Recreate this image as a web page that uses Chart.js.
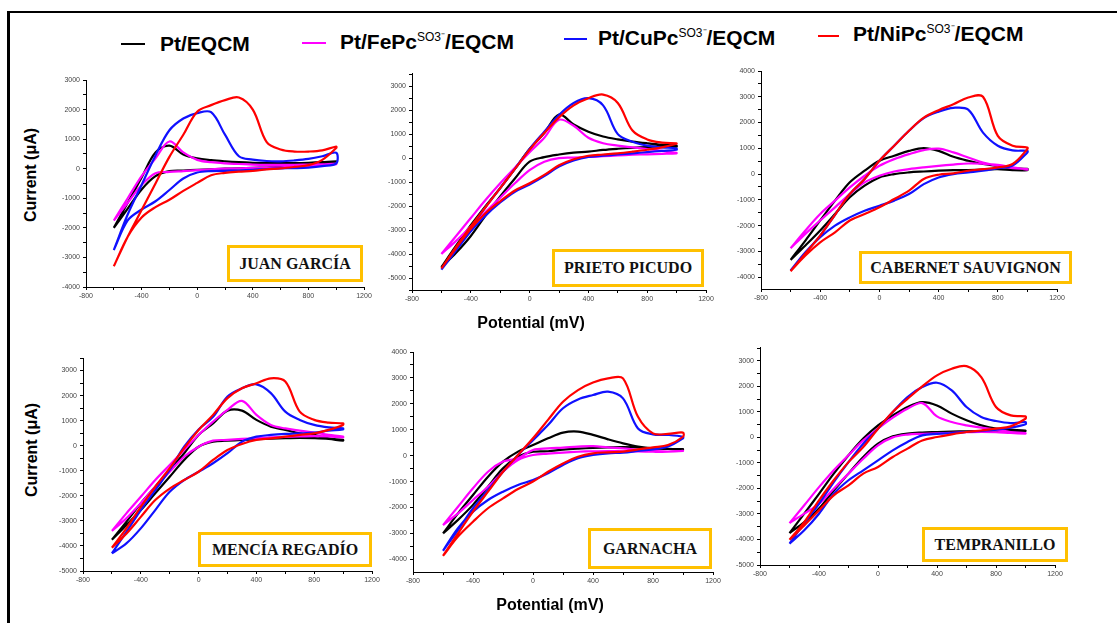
<!DOCTYPE html>
<html>
<head>
<meta charset="utf-8">
<script src="https://cdn.jsdelivr.net/npm/chart.js@4.4.0/dist/chart.umd.min.js"></script>
<style>
  html, body { margin: 0; padding: 0; background: #fff; }
  body { width: 1117px; height: 623px; position: relative; overflow: hidden; font-family: "Liberation Sans", Arial, sans-serif; }
  #frame { position: absolute; left: 7px; top: 11px; width: 1120px; height: 620px; border-left: 3px solid #000; border-top: 2px solid #000; }
  canvas { position: absolute; }
  .leg { position: absolute; font-weight: bold; font-size: 21px; color: #000; white-space: nowrap; line-height: 1; transform: translateY(-50%); }
  .leg sup { font-size: 12px; font-weight: normal; vertical-align: 8px; line-height: 0; }
  .swatch { position: absolute; height: 2px; }
  .tag { position: absolute; box-sizing: border-box; border: 3px solid #ffc000; background: #fff;
         display: flex; align-items: center; justify-content: center;
         font-family: "Liberation Serif", serif; font-weight: bold; font-size: 16px; color: #111; white-space: nowrap; }
  .title { position: absolute; font-weight: bold; font-size: 16px; color: #000; white-space: nowrap; transform: translate(-50%, -50%); }
  .title.v { transform: translate(-50%, -50%) rotate(-90deg); }
</style>
</head>
<body>
<div id="frame"></div>

<div class="swatch" style="left:121px;top:43px;width:24px;background:#000"></div>
<div class="leg" style="left:160px;top:43px">Pt/EQCM</div>
<div class="swatch" style="left:302px;top:42px;width:24px;background:#ff00ff"></div>
<div class="leg" style="left:340px;top:41px">Pt/FePc<sup>SO3⁻</sup>/EQCM</div>
<div class="swatch" style="left:564px;top:38px;width:23px;background:#1010ff"></div>
<div class="leg" style="left:598px;top:37px">Pt/CuPc<sup>SO3⁻</sup>/EQCM</div>
<div class="swatch" style="left:818px;top:35px;width:21px;background:#ff0000"></div>
<div class="leg" style="left:853px;top:33px">Pt/NiPc<sup>SO3⁻</sup>/EQCM</div>

<canvas id="jg"></canvas>
<canvas id="pp"></canvas>
<canvas id="cs"></canvas>
<canvas id="mr"></canvas>
<canvas id="ga"></canvas>
<canvas id="te"></canvas>

<div class="tag" style="left:227px;top:245px;width:136px;height:37px">JUAN GARCÍA</div>
<div class="tag" style="left:552px;top:249px;width:152px;height:38px">PRIETO PICUDO</div>
<div class="tag" style="left:859px;top:251px;width:213px;height:33px">CABERNET SAUVIGNON</div>
<div class="tag" style="left:198px;top:532px;width:174px;height:35px">MENCÍA REGADÍO</div>
<div class="tag" style="left:588px;top:528px;width:124px;height:41px">GARNACHA</div>
<div class="tag" style="left:922px;top:527px;width:146px;height:35px">TEMPRANILLO</div>

<div class="title v" style="left:31px;top:175px">Current (μA)</div>
<div class="title v" style="left:32px;top:450px">Current (μA)</div>
<div class="title" style="left:531px;top:323px">Potential (mV)</div>
<div class="title" style="left:550px;top:605px">Potential (mV)</div>

<script>
// potencial común (mV), barrido de -600 a 1000
const potential = [-600, -500, -400, -300, -200, -100, 0, 100, 200, 300, 400, 500, 600, 700, 800, 900, 1000];
const xTickLabels = [-800, -400, 0, 400, 800, 1200];
const yTickLabels = [-5000, -4000, -3000, -2000, -1000, 0, 1000, 2000, 3000, 4000];

// corriente (µA): rama anódica (Up) y catódica (Down), en el orden de potential

// JUAN GARCÍA
const jgEqcmUp   = [-2000, -1150, -300, 550, 780, 480, 350, 290, 250, 220, 200, 190, 190, 190, 200, 220, 250];
const jgEqcmDown = [-2000, -1350, -700, -250, -80, -60, -40, -20, 0, 10, 30, 40, 60, 80, 100, 150, 220];
const jgFeUp     = [-1750, -1000, -250, 350, 920, 550, 300, 220, 180, 160, 140, 130, 130, 130, 140, 150, 170];
const jgFeDown   = [-1750, -1150, -550, -150, -110, -80, -50, -20, 0, 10, 30, 40, 50, 60, 80, 110, 150];
const jgCuUp     = [-2750, -1550, -550, 450, 1300, 1700, 1880, 1910, 1150, 420, 310, 260, 250, 280, 330, 420, 540];
const jgCuDown   = [-2750, -1750, -1380, -1100, -720, -330, -130, -80, -70, -60, -40, -10, 10, 20, 40, 90, 180];
const jgNiUp     = [-3300, -2300, -1400, -500, 400, 1150, 1930, 2150, 2320, 2410, 2000, 900, 650, 580, 580, 620, 750];
const jgNiDown   = [-3300, -2300, -1650, -1300, -1050, -750, -480, -220, -140, -100, -70, -20, 10, 60, 120, 300, 700];

// PRIETO PICUDO
const ppEqcmUp   = [-4550, -3650, -2800, -2000, -1250, -450, 380, 1050, 1820, 1400, 1100, 900, 780, 690, 620, 560, 520];
const ppEqcmDown = [-4550, -3950, -3250, -2400, -1600, -850, -150, 40, 150, 230, 270, 340, 390, 430, 460, 500, 480];
const ppFeUp     = [-4000, -3250, -2500, -1750, -1050, -400, 250, 850, 1600, 1350, 850, 620, 520, 450, 380, 300, 220];
const ppFeDown   = [-4000, -3450, -2850, -2250, -1650, -1050, -500, -150, 0, 20, 50, 80, 110, 140, 160, 180, 200];
const ppCuUp     = [-4650, -3750, -2900, -2050, -1250, -450, 380, 1100, 1800, 2300, 2500, 2200, 1000, 680, 520, 450, 400];
const ppCuDown   = [-4650, -3850, -3050, -2400, -1850, -1400, -1100, -750, -350, -100, 50, 100, 150, 200, 250, 300, 350];
const ppNiUp     = [-4600, -3700, -2850, -2050, -1250, -450, 350, 1050, 1700, 2200, 2500, 2650, 2300, 1150, 780, 650, 620];
const ppNiDown   = [-4600, -3750, -2950, -2300, -1800, -1350, -1050, -700, -300, -50, 100, 150, 200, 270, 350, 450, 600];

// CABERNET SAUVIGNON
const csEqcmUp   = [-3330, -2580, -1800, -1030, -320, 130, 515, 710, 900, 1010, 900, 670, 515, 390, 320, 230, 200];
const csEqcmDown = [-3330, -2770, -2190, -1550, -900, -450, -130, 0, 65, 100, 130, 150, 155, 170, 190, 150, 150];
const csFeUp     = [-2880, -2190, -1550, -1030, -515, -65, 320, 580, 775, 930, 985, 840, 645, 450, 320, 230, 190];
const csFeDown   = [-2880, -2320, -1800, -1290, -775, -320, -65, 100, 190, 260, 320, 370, 410, 400, 360, 260, 170];
const csCuUp     = [-3740, -3050, -2390, -1580, -775, -190, 515, 1100, 1680, 2170, 2420, 2570, 2500, 1610, 1100, 920, 900];
const csCuDown   = [-3740, -3030, -2450, -2000, -1680, -1420, -1230, -1030, -775, -390, -130, 0, 65, 130, 230, 330, 840];
const csNiUp     = [-3770, -3080, -2390, -1580, -775, -190, 515, 1100, 1680, 2190, 2480, 2710, 2970, 3000, 1480, 1100, 1030];
const csNiDown   = [-3770, -3160, -2650, -2260, -1800, -1550, -1290, -970, -645, -190, -25, 25, 130, 190, 260, 390, 970];

// MENCÍA REGADÍO
const mrEqcmUp   = [-3750, -3040, -2300, -1640, -970, -300, 430, 890, 1400, 1400, 1030, 760, 630, 490, 430, 290, 230];
const mrEqcmDown = [-3750, -3170, -2570, -1900, -1240, -570, -40, 160, 200, 230, 260, 280, 300, 310, 300, 270, 200];
const mrFeUp     = [-3400, -2700, -2040, -1370, -770, -170, 430, 960, 1430, 1790, 1230, 830, 690, 600, 520, 430, 360];
const mrFeDown   = [-3400, -2900, -2300, -1640, -1040, -440, -40, 200, 230, 270, 300, 330, 350, 370, 380, 370, 330];
const mrCuUp     = [-4300, -3440, -2570, -1770, -970, -40, 650, 1150, 1960, 2290, 2450, 2100, 1360, 1030, 830, 730, 690];
const mrCuDown   = [-4300, -3900, -3300, -2570, -1840, -1370, -1040, -700, -300, 160, 360, 430, 470, 490, 520, 600, 650];
const mrNiUp     = [-4070, -3300, -2440, -1640, -900, -100, 630, 1230, 1900, 2290, 2490, 2690, 2560, 1360, 1030, 920, 890];
const mrNiDown   = [-4070, -3510, -2840, -2170, -1710, -1370, -1040, -570, -170, 70, 230, 290, 360, 430, 490, 630, 830];

// GARNACHA
const gaEqcmUp   = [-3000, -2230, -1520, -810, -230, 155, 410, 670, 890, 930, 800, 630, 475, 350, 280, 260, 250];
const gaEqcmDown = [-3000, -2480, -1900, -1200, -490, -40, 150, 170, 230, 270, 300, 320, 330, 320, 290, 260, 240];
const gaFeUp     = [-2680, -1970, -1260, -620, -230, -100, 220, 280, 310, 350, 370, 320, 280, 220, 180, 155, 190];
const gaFeDown   = [-2680, -2230, -1710, -1200, -620, -170, 25, 80, 120, 150, 170, 180, 170, 160, 150, 150, 180];
const gaCuUp     = [-3670, -2870, -2030, -1320, -620, 25, 600, 1180, 1830, 2170, 2340, 2470, 2210, 1050, 820, 800, 730];
const gaCuDown   = [-3670, -2800, -2160, -1710, -1390, -1130, -940, -680, -360, -100, 25, 90, 115, 180, 245, 350, 670];
const gaNiUp     = [-3870, -3000, -2160, -1390, -620, 25, 670, 1380, 2080, 2530, 2820, 2980, 2980, 1500, 860, 840, 890];
const gaNiDown   = [-3870, -3125, -2550, -2030, -1650, -1290, -1000, -620, -300, -40, 90, 130, 155, 245, 320, 410, 730];

// TEMPRANILLO
const teEqcmUp   = [-3750, -2990, -2210, -1420, -700, -50, 470, 860, 1190, 1380, 1250, 930, 670, 470, 340, 300, 270];
const teEqcmDown = [-3750, -3320, -2790, -2080, -1420, -770, -250, 40, 150, 190, 210, 230, 240, 250, 260, 260, 250];
const teFeUp     = [-3360, -2660, -1950, -1290, -700, -120, 340, 770, 1120, 1340, 820, 600, 470, 380, 300, 210, 170];
const teFeDown   = [-3360, -2990, -2600, -2010, -1420, -840, -310, 0, 110, 140, 160, 180, 200, 210, 200, 170, 150];
const teCuUp     = [-4160, -3360, -2600, -1750, -970, -250, 340, 990, 1580, 1970, 2140, 1840, 1190, 800, 640, 560, 600];
const teCuDown   = [-4160, -3640, -2990, -2210, -1680, -1290, -900, -510, -180, 80, 140, 170, 210, 250, 300, 380, 510];
const teNiUp     = [-4010, -3320, -2470, -1680, -970, -380, 340, 990, 1510, 2000, 2430, 2690, 2790, 2360, 1190, 860, 820];
const teNiDown   = [-4010, -3450, -2860, -2270, -1880, -1420, -1160, -770, -440, -120, 13, 120, 210, 270, 340, 430, 730];

// colores de cada electrodo
const colors = { ni: '#ff0000', cu: '#1010ff', fe: '#ff00ff', eqcm: '#000000' };

// une las dos ramas en un ciclo cerrado
function loop(up, down) {
    const pts = potential.map((e, i) => ({ x: e, y: up[i] }));
    for (let i = potential.length - 1; i >= 0; i--) {
        pts.push({ x: potential[i], y: down[i] });
    }
    return pts;
}

function line(up, down, color) {
    return {
        data: loop(up, down),
        showLine: true,
        borderColor: color,
        backgroundColor: color,
        borderWidth: 2.2,
        pointRadius: 0,
        tension: 0.35,
        fill: false
    };
}

// marcas: cada etiqueta y una marca menor a mitad de camino
function withMinor(labels) {
    const out = [];
    labels.forEach((v, i) => {
        if (i > 0) out.push((labels[i - 1] + v) / 2);
        out.push(v);
    });
    out.unshift(labels[0] - (labels[1] - labels[0]) / 2);
    out.push(labels[labels.length - 1] + (labels[1] - labels[0]) / 2);
    return out;
}
const xTicks = withMinor(xTickLabels);
const yTicks = withMinor(yTickLabels);

const tickFont = { size: 7, family: 'Liberation Sans' };

// plotLeft/plotTop = esquina del área de trazado en la página
function drawPanel(id, plotLeft, plotTop, plotW, plotH, yMin, yMax, series) {
    const yAxisW = 40, xAxisH = 18, padTop = 8, padRight = 14;
    const canvas = document.getElementById(id);
    canvas.width = yAxisW + plotW + padRight;
    canvas.height = padTop + plotH + xAxisH;
    canvas.style.left = (plotLeft - yAxisW) + 'px';
    canvas.style.top = (plotTop - padTop) + 'px';

    new Chart(canvas.getContext('2d'), {
        type: 'scatter',
        data: {
            datasets: [
                line(series[6], series[7], colors.ni),
                line(series[4], series[5], colors.cu),
                line(series[2], series[3], colors.fe),
                line(series[0], series[1], colors.eqcm)
            ]
        },
        options: {
            responsive: false,
            animation: false,
            layout: { padding: { top: padTop, right: padRight, left: 0, bottom: 0 } },
            plugins: { legend: { display: false }, tooltip: { enabled: false } },
            scales: {
                x: {
                    type: 'linear',
                    min: -800,
                    max: 1200,
                    afterFit: s => { s.height = xAxisH; },
                    afterBuildTicks: s => {
                        s.ticks = xTicks.filter(v => v >= s.min && v <= s.max).map(v => ({ value: v }));
                    },
                    border: { display: true, color: '#000', width: 1 },
                    grid: { drawOnChartArea: false, drawTicks: true, tickLength: 3, color: '#000' },
                    ticks: {
                        autoSkip: false,
                        maxRotation: 0,
                        padding: 2,
                        font: tickFont,
                        color: '#444',
                        callback: v => xTickLabels.includes(v) ? String(v) : ''
                    }
                },
                y: {
                    type: 'linear',
                    min: yMin,
                    max: yMax,
                    afterFit: s => { s.width = yAxisW; },
                    afterBuildTicks: s => {
                        s.ticks = yTicks.filter(v => v >= s.min && v <= s.max).map(v => ({ value: v }));
                    },
                    border: { display: true, color: '#000', width: 1 },
                    grid: { drawOnChartArea: false, drawTicks: true, tickLength: 3, color: '#000' },
                    ticks: {
                        autoSkip: false,
                        padding: 3,
                        font: tickFont,
                        color: '#444',
                        callback: v => yTickLabels.includes(v) ? String(v) : ''
                    }
                }
            }
        }
    });
}

drawPanel('jg', 86, 80, 278, 207, -4000, 3000,
    [jgEqcmUp, jgEqcmDown, jgFeUp, jgFeDown, jgCuUp, jgCuDown, jgNiUp, jgNiDown]);
drawPanel('pp', 412, 73, 294, 217, -5500, 3550,
    [ppEqcmUp, ppEqcmDown, ppFeUp, ppFeDown, ppCuUp, ppCuDown, ppNiUp, ppNiDown]);
drawPanel('cs', 761, 71, 296, 218, -4460, 4000,
    [csEqcmUp, csEqcmDown, csFeUp, csFeDown, csCuUp, csCuDown, csNiUp, csNiDown]);
drawPanel('mr', 83, 358, 289, 213, -5000, 3500,
    [mrEqcmUp, mrEqcmDown, mrFeUp, mrFeDown, mrCuUp, mrCuDown, mrNiUp, mrNiDown]);
drawPanel('ga', 413, 352, 300, 220, -4490, 4000,
    [gaEqcmUp, gaEqcmDown, gaFeUp, gaFeDown, gaCuUp, gaCuDown, gaNiUp, gaNiDown]);
drawPanel('te', 760, 347, 295, 218, -5000, 3540,
    [teEqcmUp, teEqcmDown, teFeUp, teFeDown, teCuUp, teCuDown, teNiUp, teNiDown]);
</script>
</body>
</html>
